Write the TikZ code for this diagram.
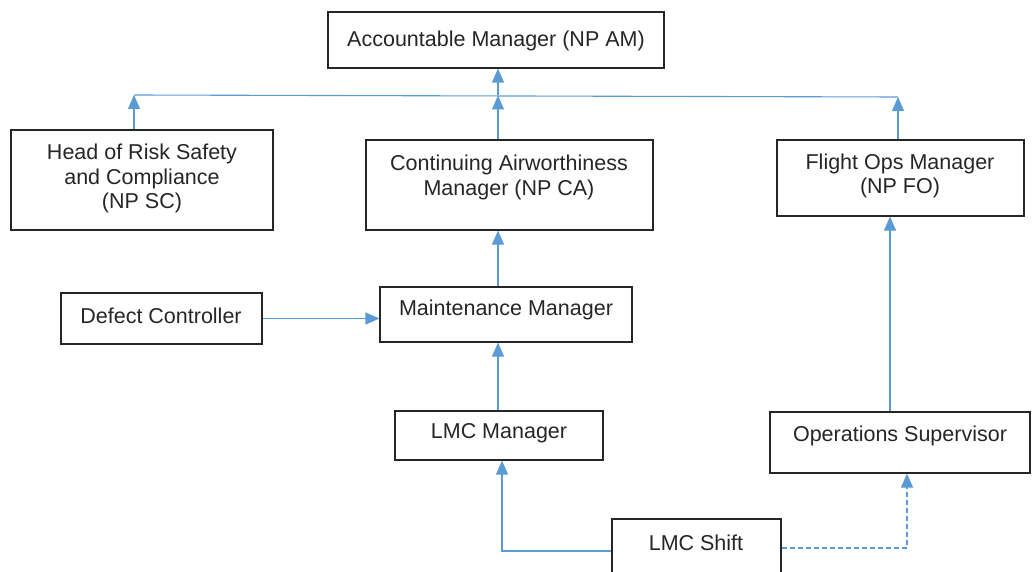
\documentclass[tikz,border=0pt]{standalone}
\usepackage{fontspec}
\setmainfont{Liberation Sans}
\usetikzlibrary{arrows.meta}
\definecolor{arr}{HTML}{5B9BD5}
\begin{document}
\begin{tikzpicture}[x=1pt,y=-1pt,
 box/.style={draw=black!85, line width=1.1pt, fill=white, inner sep=0pt},
 lbl/.style={font=\fontsize{21.5}{24.5}\selectfont, align=center, inner sep=0pt, text=black!85},
 conn/.style={draw=arr, line width=1.1pt},
 arrowtip/.style={-{Triangle[length=14pt,width=12pt]}}]
\useasboundingbox (0,0) rectangle (1032,572);
\clip (0,0) rectangle (1032,572);
% boxes
\node[box, minimum width=336pt, minimum height=56pt] (am) at (496,40) {};
\node[box, minimum width=262pt, minimum height=100pt] (hr) at (142,180) {};
\node[box, minimum width=287pt, minimum height=90pt] (cam) at (509.5,185) {};
\node[box, minimum width=247pt, minimum height=76pt] (fom) at (900.5,178) {};
\node[box, minimum width=201pt, minimum height=51pt] (dc) at (161.5,318.5) {};
\node[box, minimum width=252pt, minimum height=55pt] (mm) at (506,314.5) {};
\node[box, minimum width=208pt, minimum height=49pt] (lmcm) at (499,435.5) {};
\node[box, minimum width=260pt, minimum height=61pt] (ops) at (900,442.5) {};
\node[box, minimum width=169pt, minimum height=81pt] (shift) at (696.5,559.5) {};
% texts
\node[lbl] (amt) at (496,40.5) {Accountable Manager (NP AM)};
\node[lbl] (hrt) at (142,178.5) {Head of Risk Safety\\and Compliance\\(NP SC)};
\node[lbl] (camt) at (509,177.5) {Continuing Airworthiness\\Manager (NP CA)};
\node[lbl] (fomt) at (900,176) {Flight Ops Manager\\(NP FO)};
\node[lbl] (dct) at (161,315.5) {Defect Controller};
\node[lbl] (mmt) at (506,309.5) {Maintenance Manager};
\node[lbl] (lmcmt) at (499,433.5) {LMC Manager};
\node[lbl] (opst) at (900,435.5) {Operations Supervisor};
\node[lbl] (shiftt) at (696,542.5) {LMC Shift};
% coordinates
\coordinate (busL) at (134,95);
\coordinate (busM) at (498,95.5);
\coordinate (busR) at (898,97);
\coordinate (oc) at (890,300);
\coordinate (sl) at (502,551);
\coordinate (sr) at (907,548);
% connectors
\draw[conn] (busL) -- (busR);
\draw[conn,arrowtip] (busM) -- (busM |- am.south);
\draw[conn,arrowtip] (busL |- hr.north) -- (busL);
\draw[conn,arrowtip] (busM |- cam.north) -- (busM);
\draw[conn,arrowtip] (busR |- fom.north) -- (busR);
\draw[conn,arrowtip] (busM |- mm.north) -- (busM |- cam.south);
\draw[conn,arrowtip] (dc.east) -- (dc.east -| mm.west);
\draw[conn,arrowtip] (busM |- lmcm.north) -- (busM |- mm.south);
\draw[conn,arrowtip] (oc |- ops.north) -- (oc |- fom.south);
\draw[conn,arrowtip] (shift.west |- sl) -- (sl) -- (sl |- lmcm.south);
\draw[conn,arrowtip,dash pattern=on 5pt off 3pt] (shift.east |- sr) -- (sr) -- (sr |- ops.south);
\end{tikzpicture}
\end{document}
